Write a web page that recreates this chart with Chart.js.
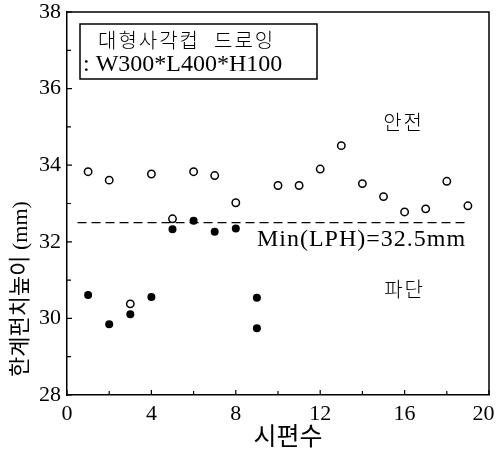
<!DOCTYPE html>
<html>
<head>
<meta charset="utf-8">
<script src="https://cdn.jsdelivr.net/npm/chart.js@4"></script>
<style>
  html, body { margin: 0; padding: 0; background: #fff; }
  canvas { display: block; }
</style>
</head>
<body>
<canvas id="lph-chart" width="497" height="450"></canvas>
<script>
// 시편 번호별 한계펀치높이 (mm)
const safeX = [1, 2, 3, 4, 5, 6, 7, 8, 10, 11, 12, 13, 14, 15, 16, 17, 18, 19];
const safeY = [33.83, 33.61, 30.38, 33.77, 32.60, 33.83, 33.73, 33.02, 33.47, 33.47, 33.90, 34.51, 33.52, 33.18, 32.78, 32.86, 33.58, 32.94];
const failX = [1, 2, 3, 4, 5, 6, 7, 8, 9, 9];
const failY = [30.61, 29.85, 30.11, 30.56, 32.33, 32.55, 32.26, 32.35, 30.54, 29.74];
const minLph = 32.5;
const limitX = [0.5, 19];

const xTicks = [0, 4, 8, 12, 16, 20];
const yTicks = [28, 30, 32, 34, 36, 38];

const serif = '"Liberation Serif", "Noto Sans CJK KR"';

// 안쪽으로 향하는 눈금, 테두리, 주석 글자
const decorPlugin = {
    id: 'decor',
    afterDraw(chart) {
        const ctx = chart.ctx;
        const area = chart.chartArea;
        const xs = chart.scales.x;
        const ys = chart.scales.y;

        ctx.save();
        ctx.strokeStyle = '#000';
        ctx.lineWidth = 1.5;
        ctx.beginPath();
        ctx.moveTo(area.left, area.top);
        ctx.lineTo(area.right, area.top);
        ctx.lineTo(area.right, area.bottom);
        ctx.stroke();

        ctx.lineWidth = 1.2;
        ctx.beginPath();
        for (let v = 0; v <= 20; v += 2) {
            const px = xs.getPixelForValue(v);
            const len = v % 4 === 0 ? 5 : 4;
            ctx.moveTo(px, area.bottom);
            ctx.lineTo(px, area.bottom - len);
        }
        for (let v = 28; v <= 38; v += 1) {
            const py = ys.getPixelForValue(v);
            const len = v % 2 === 0 ? 5 : 4;
            ctx.moveTo(area.left, py);
            ctx.lineTo(area.left + len, py);
        }
        ctx.stroke();

        // 조건 표시 상자
        const bx = area.left + 13, by = area.top + 12, bw = 237, bh = 55;
        ctx.lineWidth = 1.5;
        ctx.strokeRect(bx, by, bw, bh);
        ctx.fillStyle = '#000';
        ctx.textBaseline = 'middle';
        ctx.textAlign = 'left';
        ctx.font = '300 20px ' + serif;
        ctx.letterSpacing = '2px';
        ctx.fillText('대형사각컵  드로잉', bx + 18, by + 19);
        ctx.letterSpacing = '0px';
        ctx.font = '24px ' + serif;
        ctx.fillText(': W300*L400*H100', bx + 3, by + 41);

        // 영역 표시
        ctx.textAlign = 'center';
        ctx.font = '300 20px ' + serif;
        ctx.letterSpacing = '2px';
        ctx.fillText('안전', xs.getPixelForValue(15.95), ys.getPixelForValue(35.05));
        ctx.fillText('파단', xs.getPixelForValue(16.0), ys.getPixelForValue(30.69));
        ctx.letterSpacing = '1px';
        ctx.font = '24px ' + serif;
        ctx.fillText('Min(LPH)=32.5mm', xs.getPixelForValue(13.96), ys.getPixelForValue(32.05));
        ctx.letterSpacing = '0px';

        // 축 제목
        ctx.font = '25px ' + serif;
        ctx.fillText('시편수', 288, 438);
        ctx.translate(21, 289);
        ctx.rotate(-Math.PI / 2);
        ctx.font = '22px ' + serif;
        ctx.fillText('한계펀치높이 (mm)', 0, 0);
        ctx.restore();
    }
};

const ctx = document.getElementById('lph-chart').getContext('2d');
new Chart(ctx, {
    type: 'scatter',
    data: {
        datasets: [
            {
                label: '안전',
                data: safeX.map((x, i) => ({ x: x, y: safeY[i] })),
                pointStyle: 'circle',
                pointRadius: 3.7,
                pointBorderWidth: 1.5,
                borderColor: '#000',
                backgroundColor: '#fff',
                order: 1
            },
            {
                label: '파단',
                data: failX.map((x, i) => ({ x: x, y: failY[i] })),
                pointStyle: 'circle',
                pointRadius: 4,
                pointBorderWidth: 0,
                borderColor: '#000',
                backgroundColor: '#000',
                order: 0
            },
            {
                type: 'line',
                label: 'Min(LPH)',
                data: limitX.map(x => ({ x: x, y: minLph })),
                borderColor: '#000',
                borderWidth: 1.2,
                borderDash: [9, 5],
                pointRadius: 0,
                fill: false,
                order: 2
            }
        ]
    },
    options: {
        responsive: false,
        animation: false,
        devicePixelRatio: 1,
        layout: { padding: { top: 12, right: 8, left: 0, bottom: 0 } },
        plugins: {
            legend: { display: false },
            tooltip: { enabled: false }
        },
        scales: {
            x: {
                type: 'linear',
                min: 0,
                max: 20,
                afterBuildTicks: scale => { scale.ticks = xTicks.map(v => ({ value: v })); },
                afterFit: scale => {
                    scale.height = 55;
                    scale.paddingLeft = 0;
                    scale.paddingRight = 0;
                },
                ticks: {
                    color: '#000',
                    padding: 6,
                    font: { family: serif, size: 22 },
                    // 마지막 라벨은 캔버스 밖으로 잘리지 않게 조금 안쪽으로
                    callback: v => v === 20 ? '20\u2002' : String(v)
                },
                grid: { drawOnChartArea: false, drawTicks: false },
                border: { color: '#000', width: 1.5 }
            },
            y: {
                type: 'linear',
                min: 28,
                max: 38,
                afterBuildTicks: scale => { scale.ticks = yTicks.map(v => ({ value: v })); },
                afterFit: scale => {
                    scale.width = 67;
                    scale.paddingTop = 0;
                    scale.paddingBottom = 0;
                },
                ticks: {
                    color: '#000',
                    padding: 6,
                    font: { family: serif, size: 22 }
                },
                grid: { drawOnChartArea: false, drawTicks: false },
                border: { color: '#000', width: 1.5 }
            }
        }
    },
    plugins: [decorPlugin]
});
</script>
</body>
</html>
